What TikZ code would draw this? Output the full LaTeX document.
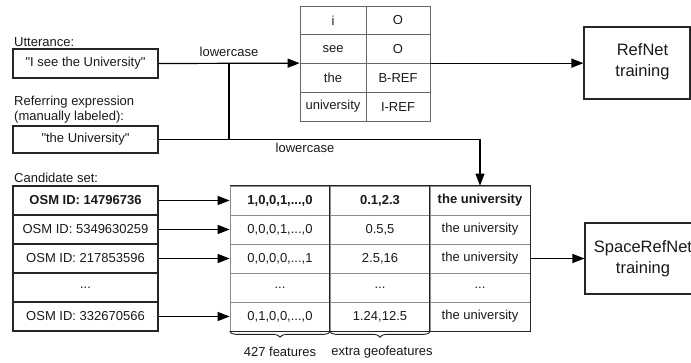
\documentclass[tikz,border=0pt]{standalone}
\usepackage{fontspec}
\setmainfont{Liberation Sans}
\usetikzlibrary{arrows.meta,decorations.pathreplacing}
\begin{document}
\begin{tikzpicture}[x=1pt,y=-1pt,
  every node/.style={font=\fontsize{13}{15}\selectfont, inner sep=0pt, text=black!90},
  box/.style={draw=black!85, line width=1.1pt, minimum width=145pt, minimum height=29pt},
  bigbox/.style={draw=black!85, line width=1.1pt},
  bigtext/.style={font=\fontsize{16.5}{21}\selectfont, align=center},
  tcell/.style={draw=black!60, line width=0.7pt, minimum width=66pt, minimum height=28.75pt},
  lcell/.style={draw=black!85, line width=1.1pt, minimum width=145pt, minimum height=29pt},
  rcell/.style={draw=black!45, line width=0.7pt, minimum width=100pt, minimum height=29pt},
  dark/.style={draw=black!85, line width=1.1pt},
  conn/.style={draw=black, line width=1.2pt},
  arr/.style={draw=black, line width=1.2pt, -{Triangle[length=12pt,width=9pt]}},
  brc/.style={draw=black!85, line width=0.9pt, decorate, decoration={brace, mirror, amplitude=6pt}}
]
\useasboundingbox (0,0) rectangle (691,363);

% labels
\node[anchor=west] (uttlbl) at (14,42) {Utterance:};
\node[anchor=west, align=left] (reflbl) at (14,110) {Referring expression\\(manually labeled):};
\node[anchor=west] (candlbl) at (14,178) {Candidate set:};

% input boxes
\node[box] (utt) at (85.5,63.5) {\textquotedbl I see the University\textquotedbl};
\node[box, minimum height=27pt] (ref) at (85.5,139.5) {\textquotedbl the University\textquotedbl};

% top table
\node[tcell] (tA1) at (333,20.375) {i};
\node[tcell] (tA2) at (333,49.125) {see};
\node[tcell] (tA3) at (333,77.875) {the};
\node[tcell] (tA4) at (333,106.625) {university};
\node[tcell, minimum width=64pt] (tB1) at (398,20.375) {O};
\node[tcell, minimum width=64pt] (tB2) at (398,49.125) {O};
\node[tcell, minimum width=64pt] (tB3) at (398,77.875) {B-REF};
\node[tcell, minimum width=64pt] (tB4) at (398,106.625) {I-REF};

% RefNet box
\node[bigbox, minimum width=106pt, minimum height=72pt] (refnet) at (637,63) {};
\node[bigtext] (refnettxt) at (642.5,62) {RefNet\\training};

% candidate table (left)
\node[lcell] (cL1) at (85.5,200.5) {\bfseries OSM ID: 14796736};
\node[lcell] (cL2) at (85.5,229.5) {OSM ID: 5349630259};
\node[lcell] (cL3) at (85.5,258.5) {OSM ID: 217853596};
\node[lcell] (cL4) at (85.5,287.5) {...};
\node[lcell] (cL5) at (85.5,316.5) {OSM ID: 332670566};

% feature table (right)
\node[rcell] (cA1) at (280,200.5) {\bfseries 1,0,0,1,...,0};
\node[rcell] (cA2) at (280,229.5) {0,0,0,1,...,0};
\node[rcell] (cA3) at (280,258.5) {0,0,0,0,...,1};
\node[rcell] (cA4) at (280,287.5) {...};
\node[rcell] (cA5) at (280,316.5) {0,1,0,0,...,0};
\node[rcell] (cB1) at (380,200.5) {\bfseries 0.1,2.3};
\node[rcell] (cB2) at (380,229.5) {0.5,5};
\node[rcell] (cB3) at (380,258.5) {2.5,16};
\node[rcell] (cB4) at (380,287.5) {...};
\node[rcell] (cB5) at (380,316.5) {1.24,12.5};
\node[rcell] (cC1) at (480,200.5) {\bfseries the university};
\node[rcell] (cC2) at (480,229.5) {the university};
\node[rcell] (cC3) at (480,258.5) {the university};
\node[rcell] (cC4) at (480,287.5) {...};
\node[rcell] (cC5) at (480,316.5) {the university};
\draw[dark] (cA1.north west) -- (cC1.north east) -- (cC5.south east) -- (cA5.south west);
\draw[dark] (cB1.north west) -- (cB5.south west);
\draw[dark] (cC1.north west) -- (cC5.south west);

% SpaceRefNet box
\node[bigbox, bigtext, minimum width=116pt, minimum height=71pt] (srn) at (643,258.5) {SpaceRefNet\\training};

% braces
\draw[brc] (cA5.south west) -- (cA5.south east);
\draw[brc] (cB5.south west) -- (cB5.south east);
\node (f1) at (280,352) {427 features};
\node (f2) at (382,352) {extra geofeatures};

% connectors
\coordinate (jx) at (229,0);
\draw[arr] (utt.east) -- (tA3.north west);
\draw[conn] (utt.east -| jx) -- (ref.east -| jx);
\draw[arr] (ref.east) -- (ref.east -| cC1.north) -- (cC1.north);
\draw[arr] (tB3.north east) -- (refnet.west |- tB3.north east);
\node (lc1) at (229,52) {lowercase};
\node (lc2) at (305,148) {lowercase};

\draw[arr] (cL1.east) -- (cA1.west);
\draw[arr] (cL2.east) -- (cA2.west);
\draw[arr] (cL3.east) -- (cA3.west);
\draw[arr] (cL5.east) -- (cA5.west);
\draw[arr] (cC3.east) -- (srn.west);
\end{tikzpicture}
\end{document}
